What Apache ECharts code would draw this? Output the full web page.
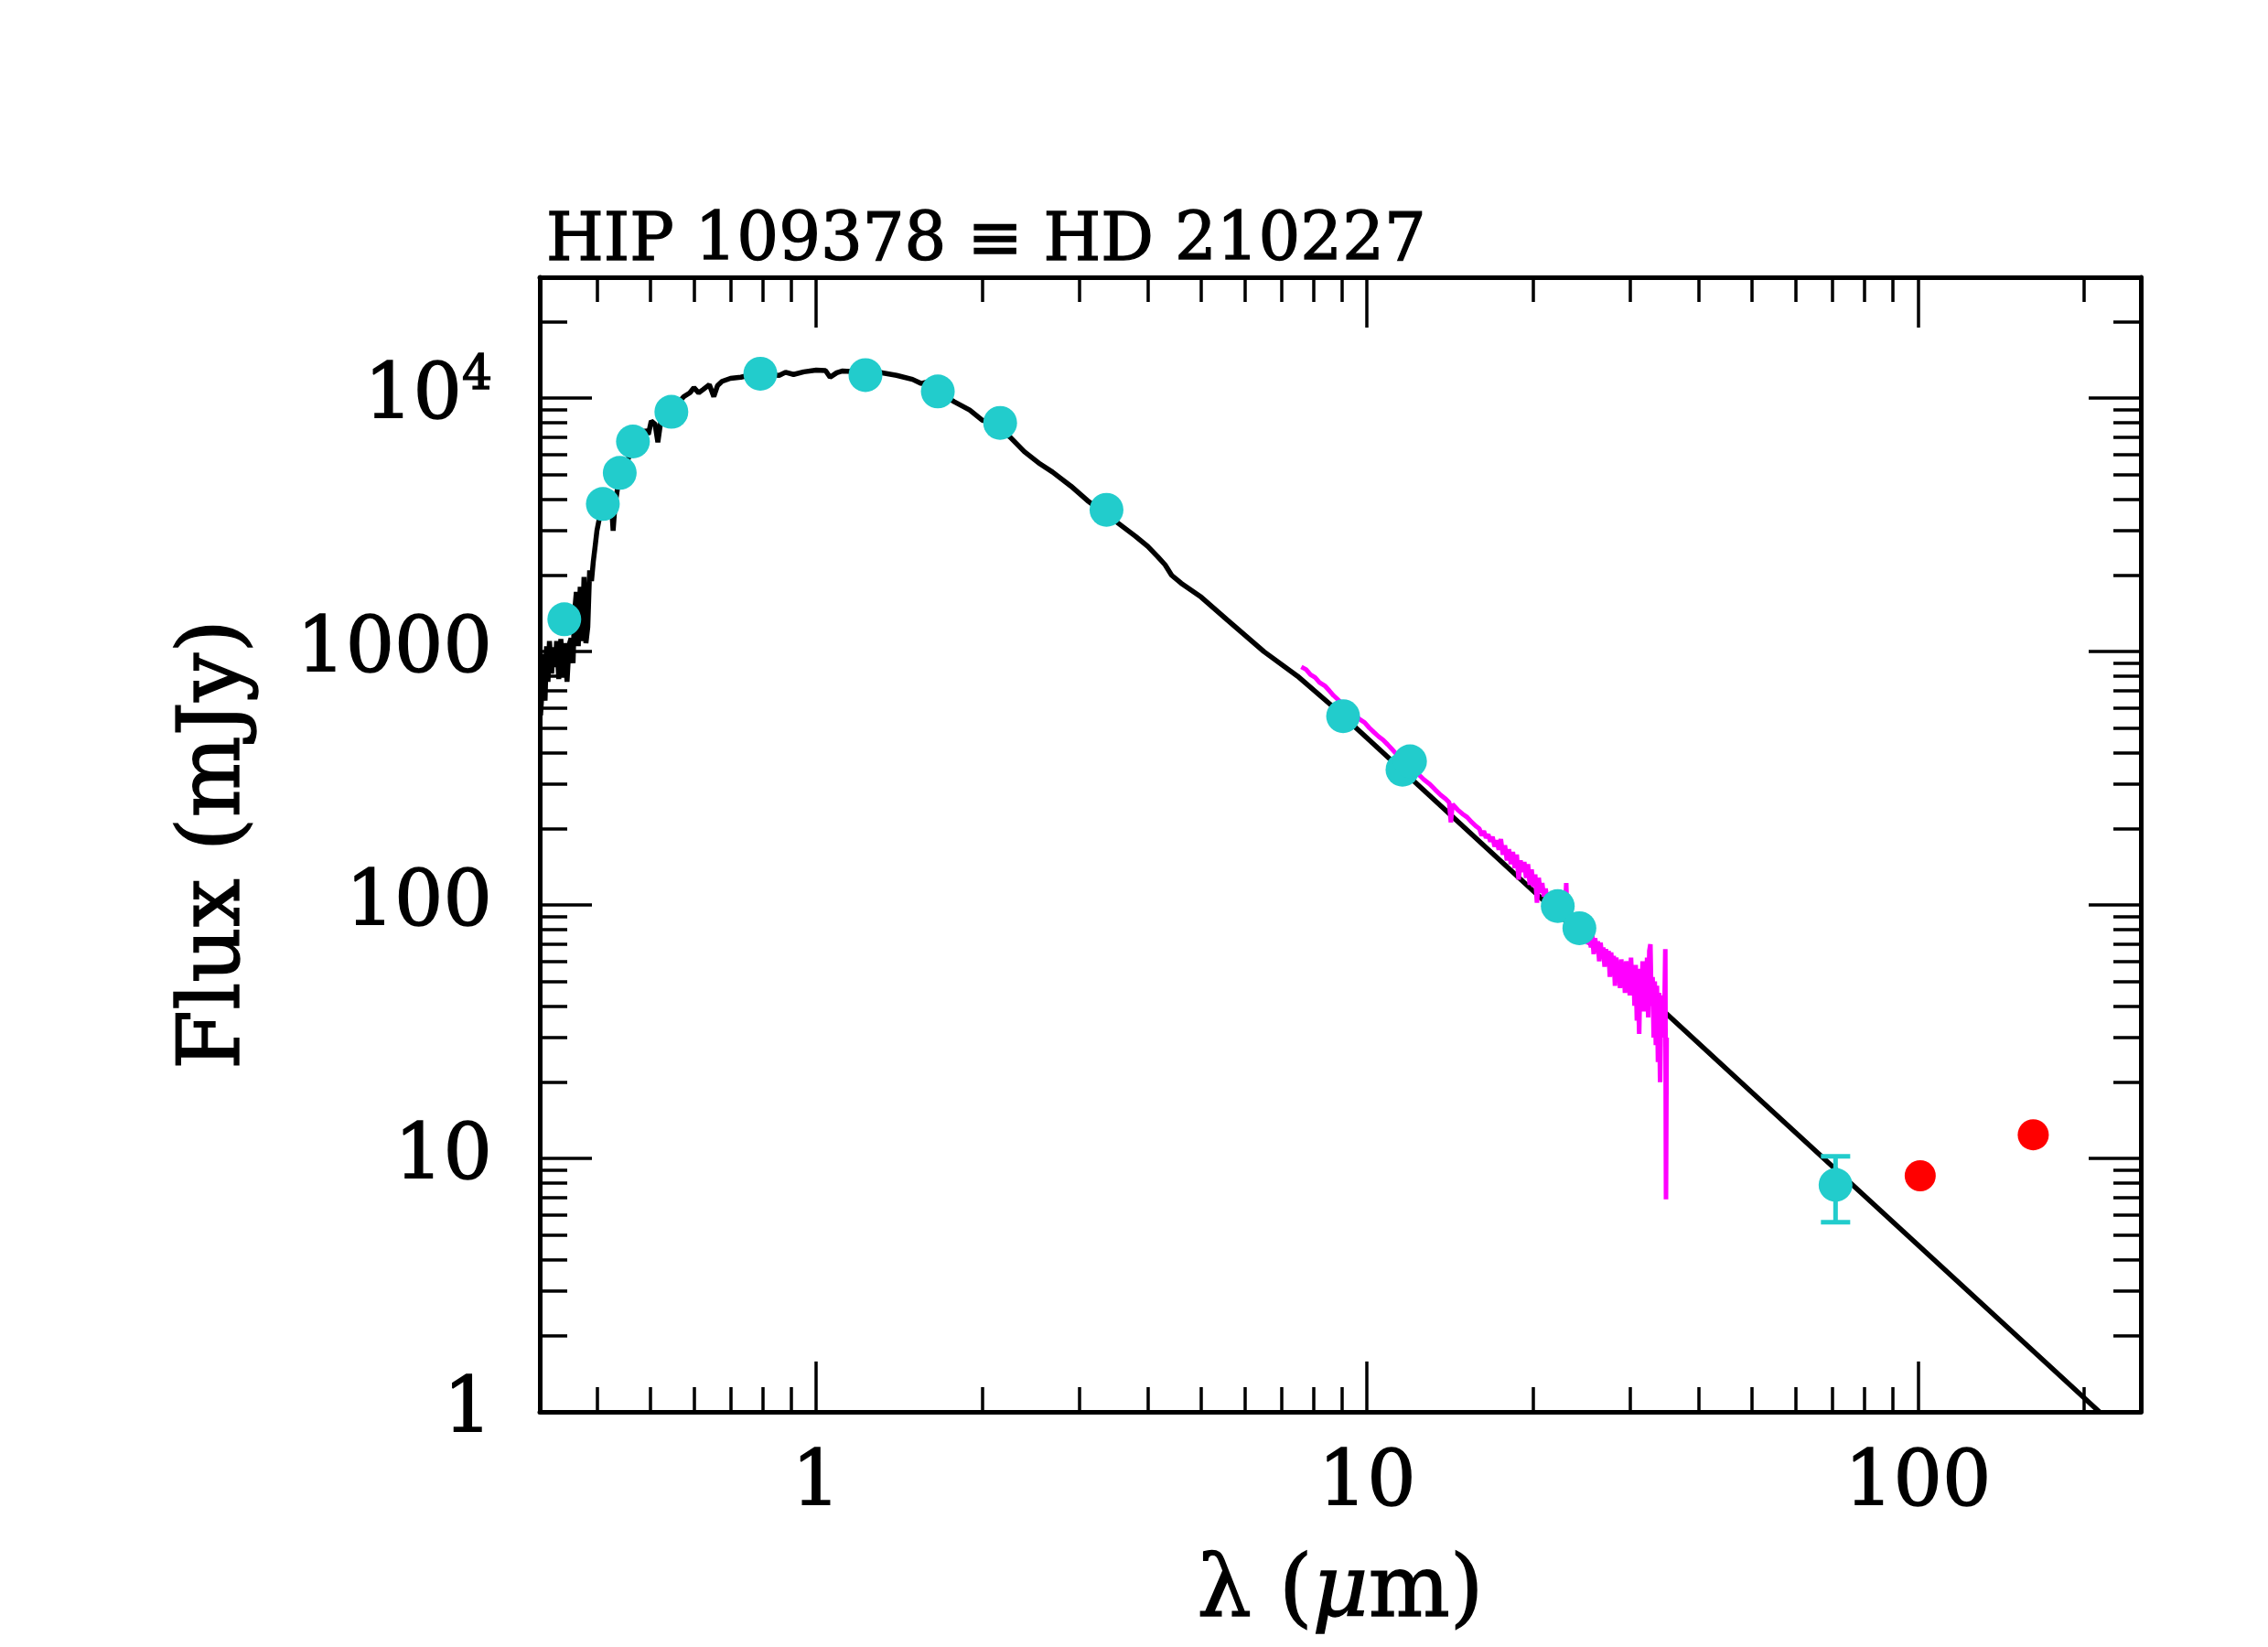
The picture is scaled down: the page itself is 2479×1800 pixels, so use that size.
<!DOCTYPE html>
<html><head><meta charset="utf-8">
<script src="https://cdn.jsdelivr.net/npm/echarts@6/dist/echarts.min.js"></script>
<style>html,body{margin:0;padding:0;background:#fff}#c{width:2479px;height:1800px}</style>
</head><body><div id="c"></div>
<script>
// ---- axis ticks ----
const xMajorTicks = [1, 10, 100];
const xMinorTicks = [0.4,0.5,0.6,0.7,0.8,0.9,2,3,4,5,6,7,8,9,20,30,40,50,60,70,80,90,200];
const yMajorTicks = [1, 10, 100, 1000, 10000];
const yMinorTicks = [2,3,4,5,6,7,8,9,20,30,40,50,60,70,80,90,200,300,400,500,600,700,800,900,
  2000,3000,4000,5000,6000,7000,8000,9000,20000];

// ---- photosphere model (black) ----
const modelWave = [0.316,0.318,0.320,0.322,0.324,0.326,0.328,0.331,0.333,0.336,0.338,0.341,0.344,0.347,0.350,0.353,0.356,0.359,0.362,0.364,0.367,0.370,0.373,0.376,0.379,0.382,0.385,0.388,0.391,0.394,0.397,0.400,0.404,0.409,0.414,0.419,0.424,0.428,0.431,0.436,0.444,0.452,0.462,0.472,0.480,0.489,0.496,0.502,0.510,0.516,0.522,0.530,0.548,0.565,0.575,0.590,0.600,0.612,0.623,0.640,0.652,0.662,0.675,0.699,0.730,0.755,0.80,0.830,0.857,0.880,0.91,0.95,1.00,1.04,1.06,1.09,1.117,1.20,1.29,1.40,1.496,1.55,1.60,1.65,1.70,1.782,1.90,2.004,2.10,2.18,2.253,2.388,2.55,2.686,2.90,3.11,3.30,3.496,3.80,4.00,4.169,4.30,4.42,4.60,5.00,5.585,6.50,7.48,8.66,10,20,50,100,200,260];
const modelFlux = [560,700,980,640,1050,760,1100,820,1040,870,1100,780,1120,800,1080,760,1060,1130,900,1400,1720,1050,1800,1100,1970,1080,1250,2090,1900,2270,2600,3000,3350,3540,3800,3650,4150,3000,3700,4420,4950,5500,6200,6700,6890,7480,7200,8130,7900,6700,8000,8300,9000,9700,10140,10500,11000,10500,10800,11300,10140,11200,11650,11970,12100,12300,12500,12350,12300,12650,12400,12700,12900,12850,12100,12600,12800,12700,12680,12300,11860,11430,11600,10900,10300,9680,8980,8180,8000,7400,7000,6150,5500,5110,4500,3940,3580,3270,2850,2600,2370,2200,2000,1860,1640,1330,1000,800,608,456,114,18.2,4.56,1.14,0.675];

// ---- IRS spectrum (magenta) ----
const irsWave = [7.60,7.75,7.90,8.05,8.20,8.40,8.55,8.70,8.90,9.10,9.30,9.50,9.70,9.90,10.1,10.3,10.5,10.7,10.9,11.1,11.3,11.5,11.8,12.1,12.4,12.7,13.0,13.3,13.6,13.9,14.1,14.2,14.3,14.6,14.9,15.2,15.5,15.8,
  16.0,16.15,16.3,16.45,16.6,16.75,16.9,17.05,17.2,17.35,17.5,17.65,17.8,17.95,18.1,18.25,18.4,18.55,18.7,18.85,19.0,19.15,19.3,19.45,19.6,19.75,19.9,20.05,20.2,20.35,20.5,20.65,20.8,20.95,21.1,21.25,21.4,21.55,21.7,21.85,22.0,22.15,22.3,22.45,22.6,22.75,22.9,23.0,23.1,23.25,23.4,23.55,23.7,23.85,24.0,24.15,24.3,24.45,24.6,24.75,24.9,25.05,25.2,25.35,25.5,25.65,25.8,25.95,26.1,26.25,26.4,26.55,26.7,26.85,27.0,27.15,27.3,27.45,27.6,27.75,27.9,28.05,28.2,28.35,28.5,28.65,28.8,28.95,29.1,29.25,29.4,29.55,29.7,29.85,30.0,30.15,30.3,30.45,30.6,30.75,30.9,31.05,31.2,31.35,31.5,31.65,31.8,31.95,32.1,32.25,32.4,32.55,32.7,32.85,33.0,33.15,33.3,33.45,33.6,33.75,33.9,34.05,34.2,34.35,34.5,34.65,34.8,34.9,35.0];
const irsFlux = [870,850,810,790,755,730,700,670,640,612,590,565,540,525,500,480,462,448,430,412,395,382,362,345,328,312,300,285,272,262,254,212,250,238,229,222,212,204,
  200,188,196,184,190,178,186,170,180,165,182,158,172,150,166,145,162,140,158,126,150,135,148,128,145,120,138,118,132,102,128,112,122,108,116,104,112,100,106,97,104,94,99,91,96,88,95,122,86,90,84,88,80,85,78,84,76,82,74,81,71,79,70,78,68,76,64,74,66,72,60,71,63,68,57,67,59,66,52,65,56,63,48,62,54,60,47,61,52,58,45,60,50,56,44,62,48,55,40,58,35,50,31,56,44,60,38,54,42,62,36,66,70,40,52,30,50,28,48,24,45,20,42,30,44,35,67,6.9,30];

// ---- photometry (cyan) ----
const photWave = [0.349,0.410,0.440,0.465,0.546,0.792,1.229,1.663,2.158,3.366,9.05,11.6,11.97,22.2,24.3,70.9];
const photFlux = [1341,3822,5070,6745,8830,12490,12330,10630,7990,3625,556,342,369,99,81,7.86];
const errWave = [70.9];
const errLow = [5.6];
const errHigh = [10.2];

// ---- PACS excess (red) ----
const pacsWave = [101, 162];
const pacsFlux = [8.54, 12.4];

const FONT = 'DejaVu Serif';
const CYAN = '#22CCCC';
const TB = { textBorderColor: '#000', textBorderWidth: 1.4 };
const zip = (a, b) => a.map((v, i) => [v, b[i]]);

function xAx(pos, ticks, len, frame, labels) {
  return {
    type: 'log', position: pos, min: 0.315, max: 254, gridIndex: 0,
    axisLine: { show: frame, onZero: false, lineStyle: { color: '#000', width: 5 } },
    axisTick: { show: true, inside: true, length: len, customValues: ticks, lineStyle: { color: '#000', width: 3.5 } },
    axisLabel: labels ? Object.assign({ show: true, customValues: ticks, margin: 38, color: '#000', fontFamily: FONT, fontSize: 84 }, TB) : { show: false },
    splitLine: { show: false }, minorTick: { show: false }
  };
}
function yAx(pos, ticks, len, frame, labels) {
  return {
    type: 'log', position: pos, min: 1, max: 30000, gridIndex: 0,
    axisLine: { show: frame, onZero: false, lineStyle: { color: '#000', width: 5 } },
    axisTick: { show: true, inside: true, length: len, customValues: ticks, lineStyle: { color: '#000', width: 3.5 } },
    axisLabel: labels ? {
      show: true, customValues: ticks, margin: 52, color: '#000', fontFamily: FONT, fontSize: 84,
      formatter: v => v >= 9999 ? '{b|10}{s|4}' : '{b|' + Math.round(v) + '}',
      rich: {
        b: Object.assign({ fontFamily: FONT, fontSize: 84, lineHeight: 100, color: '#000' }, TB),
        s: Object.assign({ fontFamily: FONT, fontSize: 52, lineHeight: 60, verticalAlign: 'top', color: '#000' }, TB)
      }
    } : { show: false },
    splitLine: { show: false }, minorTick: { show: false }
  };
}

const xAxes = [
  xAx('bottom', xMajorTicks, 55, true, true),
  xAx('bottom', xMinorTicks, 27, false, false),
  xAx('top', xMajorTicks, 55, true, false),
  xAx('top', xMinorTicks, 27, false, false)
];
Object.assign(xAxes[0], {
  name: '{n|λ (}{i|μ}{n|m)}', nameLocation: 'middle', nameGap: 152,
  nameTextStyle: { rich: {
    n: Object.assign({ fontFamily: FONT, fontSize: 94, color: '#000' }, TB),
    i: Object.assign({ fontFamily: FONT, fontSize: 94, fontStyle: 'italic', color: '#000' }, TB)
  } }
});
const yAxes = [
  yAx('left', yMajorTicks, 57, true, true),
  yAx('left', yMinorTicks, 30, false, false),
  yAx('right', yMajorTicks, 57, true, false),
  yAx('right', yMinorTicks, 30, false, false)
];
Object.assign(yAxes[0], {
  name: 'Flux (mJy)', nameLocation: 'middle', nameGap: 306, nameRotate: 90,
  nameTextStyle: Object.assign({ fontFamily: FONT, fontSize: 94, color: '#000' }, TB)
});

const chart = echarts.init(document.getElementById('c'), null, { renderer: 'canvas' });
chart.setOption({
  animation: false,
  backgroundColor: '#fff',
  title: {
    text: 'HIP 109378 ≡ HD 210227', left: 592, top: 224,
    textStyle: Object.assign({ fontFamily: FONT, fontSize: 72, fontWeight: 'normal', color: '#000' }, TB)
  },
  grid: { left: 590, right: 139, top: 303, bottom: 257, containLabel: false },
  xAxis: xAxes,
  yAxis: yAxes,
  series: [
    { type: 'line', name: 'model', data: zip(modelWave, modelFlux), showSymbol: false, symbol: 'none',
      lineStyle: { color: '#000', width: 5.5 }, z: 2, clip: true },
    { type: 'line', name: 'IRS', data: zip(irsWave, irsFlux), showSymbol: false, symbol: 'none',
      lineStyle: { color: '#FF00FF', width: 5 }, z: 3, clip: true },
    { type: 'custom', name: 'err', z: 4,
      data: errWave.map((w, i) => [w, errLow[i], errHigh[i]]),
      encode: { x: 0, y: [1, 2] },
      renderItem: (params, api) => {
        const x = api.value(0);
        const p1 = api.coord([x, api.value(1)]);
        const p2 = api.coord([x, api.value(2)]);
        const w = 16;
        const st = { stroke: CYAN, lineWidth: 5 };
        return { type: 'group', children: [
          { type: 'line', shape: { x1: p1[0], y1: p1[1], x2: p2[0], y2: p2[1] }, style: st },
          { type: 'line', shape: { x1: p1[0] - w, y1: p1[1], x2: p1[0] + w, y2: p1[1] }, style: st },
          { type: 'line', shape: { x1: p2[0] - w, y1: p2[1], x2: p2[0] + w, y2: p2[1] }, style: st }
        ] };
      } },
    { type: 'scatter', name: 'phot', data: zip(photWave, photFlux), symbol: 'circle', symbolSize: 37,
      itemStyle: { color: CYAN, opacity: 1 }, z: 5 },
    { type: 'scatter', name: 'pacs', data: zip(pacsWave, pacsFlux), symbol: 'circle', symbolSize: 34,
      itemStyle: { color: '#FF0000', opacity: 1 }, z: 5 }
  ]
});
</script>
</body></html>
